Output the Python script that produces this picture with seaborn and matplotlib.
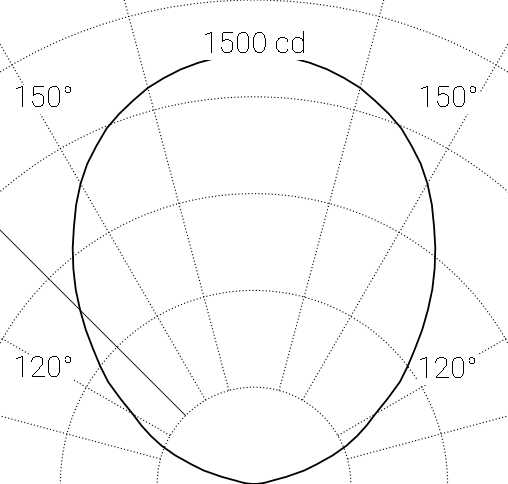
import numpy as np
import pandas as pd
import matplotlib
matplotlib.use('Agg')
import matplotlib.pyplot as plt
import seaborn as sns

# luminous intensity (cd) against angle from nadir (deg)
angles = [90, 92.5, 95, 97.5, 100, 102.5, 105, 107.5, 110, 112.5,
          115, 117.5, 120, 122.5, 125, 127.5, 130, 132.5, 135, 137.5,
          140, 142.5, 145, 147.5, 150, 152.5, 155, 157.5, 160, 162.5,
          165, 167.5, 170, 172.5, 175, 177.5, 180]
intensity = [0, 9, 25, 38, 53, 102, 161, 205, 260, 310,
             353, 394, 434, 490, 552, 601, 651, 707, 762, 818,
             871, 923, 973, 1026, 1075, 1119, 1156, 1193, 1221, 1246,
             1271, 1289, 1305, 1317, 1326, 1330, 1333]

ring_values = [300, 600, 900, 1200, 1500]
spoke_angles = [105, 120, 150, 165]
cutoff_angle = 135

# labels: text, angle (deg, + = left side), radius (cd)
label_text = ['150°', '150°', '120°', '120°', '1500 cd']
label_theta = [150.8, -152.65, 116.9, -118.65, 180]
label_r = [1338, 1315, 732, 685, 1336]


def main():
    sns.set_style('white')
    plt.rcParams['font.family'] = ['Roboto', 'DejaVu Sans']
    plt.rcParams['lines.scale_dashes'] = False
    plt.rcParams['text.antialiased'] = False

    W, H = 508, 484
    fig = plt.figure(figsize=(W / 100, H / 100), dpi=100)

    # centre of the diagram sits on the bottom edge; 300 cd = 96.8 px
    r_max = 1800
    R = r_max * 96.8 / 300
    cx, cy = 254, 0
    ax = fig.add_axes([(cx - R) / W, (cy - R) / H, 2 * R / W, 2 * R / H],
                      projection='polar')
    ax.set_theta_zero_location('S')
    ax.set_theta_direction(-1)
    ax.spines['polar'].set_visible(False)

    # dots roughly 1 px long every 3.3 px
    dotted = (0, (0.8, 1.6))

    # radial spokes, from first ring outwards
    for a in spoke_angles:
        for sign in (1, -1):
            ax.plot([np.deg2rad(sign * a)] * 2, [ring_values[0], r_max],
                    color='k', lw=0.8, ls=dotted)
    ax.plot([np.deg2rad(cutoff_angle)] * 2, [ring_values[0], r_max],
            color='k', lw=0.6)

    # polar curve, C0 and C180 halves
    df = pd.DataFrame({
        'theta': np.deg2rad(np.r_[angles, 360 - np.array(angles[::-1])]),
        'cd': intensity + intensity[::-1],
    })
    sns.lineplot(data=df, x='theta', y='cd', sort=False, estimator=None,
                 color='k', lw=1.3, ax=ax)

    ax.set_ylim(0, r_max)
    ax.set_rticks(ring_values)
    ax.set_yticklabels([])
    ax.set_xticks([])
    ax.yaxis.grid(True, color='k', lw=0.8, ls=dotted)
    ax.set_xlabel('')
    ax.set_ylabel('')

    for s, t, r in zip(label_text, label_theta, label_r):
        ax.text(np.deg2rad(t), r, s, ha='center', va='baseline',
                fontsize=21.5, fontweight='light', color='k',
                bbox=dict(facecolor='white', edgecolor='none', pad=0.5))

    fig.savefig('out.png', dpi=100)
    plt.close(fig)


if __name__ == "__main__":
    main()
